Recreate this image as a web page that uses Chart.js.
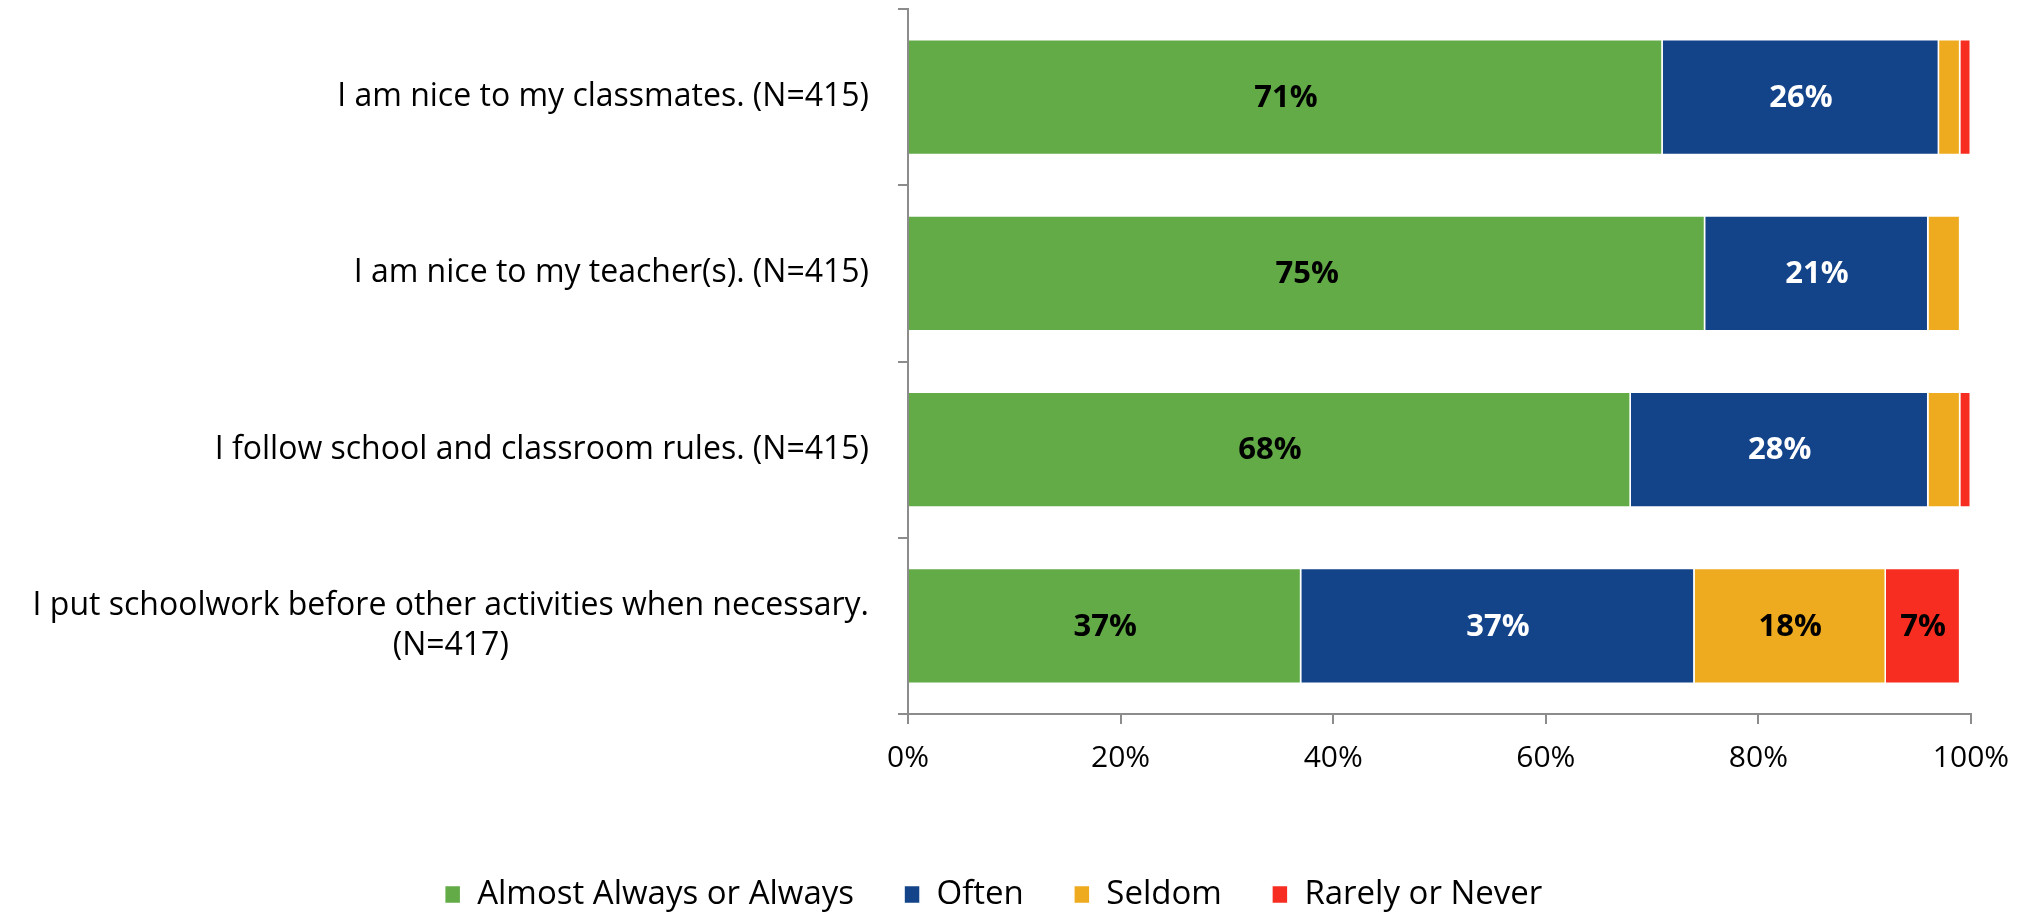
<!DOCTYPE html>
<html>
<head>
<meta charset="utf-8">
<script src="https://cdn.jsdelivr.net/npm/chart.js@4.4.1/dist/chart.umd.min.js"></script>
<style>
  html, body { margin: 0; padding: 0; background: #fff; }
  #wrap { width: 2033px; height: 912px; }
</style>
</head>
<body>
<div id="wrap"><canvas id="behavior"></canvas></div>
<script>
// survey statements, one entry per bar (extra entries are wrapped lines)
var statements = [
    ['I am nice to my classmates. (N=415)'],
    ['I am nice to my teacher(s). (N=415)'],
    ['I follow school and classroom rules. (N=415)'],
    ['I put schoolwork before other activities when necessary.', '(N=417)']
];
var almostAlways = [71, 75, 68, 37];
var often = [26, 21, 28, 37];
var seldom = [2, 3, 3, 18];
var rarely = [1, 0, 1, 7];
var xTicks = [0, 20, 40, 60, 80, 100];

var FONT = "'Open Sans', sans-serif";
var AXIS_GREY = '#8c8c8c';

// percentage text in the middle of each segment (small ones left blank)
var valueLabels = {
    id: 'valueLabels',
    afterDatasetsDraw: function(chart) {
        var ctx = chart.ctx;
        ctx.save();
        ctx.font = 'bold 31px ' + FONT;
        ctx.textAlign = 'center';
        ctx.textBaseline = 'middle';
        chart.data.datasets.forEach(function(ds, di) {
            var meta = chart.getDatasetMeta(di);
            meta.data.forEach(function(bar, i) {
                var v = ds.data[i];
                if (v < 5) return;
                ctx.fillStyle = ds.labelColor;
                ctx.fillText(v + '%', (bar.x + bar.base) / 2, bar.y + 1);
            });
        });
        ctx.restore();
    }
};

// category labels: block right-aligned to the axis, wrapped lines centred
var statementLabels = {
    id: 'statementLabels',
    afterDraw: function(chart) {
        var ctx = chart.ctx;
        var y = chart.scales.y;
        var right = chart.chartArea.left - 39;
        ctx.save();
        ctx.font = '32px ' + FONT;
        ctx.fillStyle = '#000';
        ctx.textAlign = 'center';
        ctx.textBaseline = 'middle';
        statements.forEach(function(lines, i) {
            var w = Math.max.apply(null, lines.map(function(t) { return ctx.measureText(t).width; }));
            var cx = right - w / 2;
            var cy = y.getPixelForValue(i);
            lines.forEach(function(t, j) {
                ctx.fillText(t, cx, cy + (j - (lines.length - 1) / 2) * 40);
            });
        });
        ctx.restore();
    }
};

// nudge the legend row a little lower and to the right
var legendNudge = {
    id: 'legendNudge',
    afterLayout: function(chart) {
        var lg = chart.legend;
        lg.top += 9; lg.bottom += 9;
        lg.left += 8; lg.right += 8;
    }
};

var ctx = document.getElementById('behavior').getContext('2d');
var myChart = new Chart(ctx, {
    type: 'bar',
    data: {
        labels: statements.map(function(s) { return s.join(' '); }),
        datasets: [{
            label: 'Almost Always or Always',
            data: almostAlways,
            backgroundColor: '#62ab47',
            labelColor: '#000'
        }, {
            label: 'Often',
            data: often,
            backgroundColor: '#134389',
            labelColor: '#fff'
        }, {
            label: 'Seldom',
            data: seldom,
            backgroundColor: '#efab1f',
            labelColor: '#000'
        }, {
            label: 'Rarely or Never',
            data: rarely,
            backgroundColor: '#f62d20',
            labelColor: '#000'
        }]
    },
    options: {
        indexAxis: 'y',
        responsive: true,
        maintainAspectRatio: false,
        animation: false,
        datasets: {
            bar: {
                categoryPercentage: 1,
                barPercentage: 0.66,
                borderColor: '#ffffff',
                borderWidth: 1.5
            }
        },
        layout: {
            padding: { top: 9, left: 0, right: 62, bottom: 0 }
        },
        plugins: {
            tooltip: { enabled: false },
            legend: {
                position: 'bottom',
                labels: {
                    color: '#000',
                    font: { family: FONT, size: 33 },
                    boxWidth: 16,
                    boxHeight: 18,
                    padding: 50
                }
            }
        },
        scales: {
            x: {
                stacked: true,
                min: 0,
                max: 100,
                afterBuildTicks: function(scale) {
                    scale.ticks = xTicks.map(function(v) { return { value: v }; });
                },
                afterFit: function(scale) { scale.height = 105; },
                ticks: {
                    color: '#000',
                    font: { family: FONT, size: 30 },
                    padding: 16,
                    callback: function(v) { return v + '%'; }
                },
                grid: {
                    drawOnChartArea: false,
                    color: AXIS_GREY,
                    lineWidth: 2,
                    tickLength: 10
                },
                border: { color: AXIS_GREY, width: 2 }
            },
            y: {
                stacked: true,
                offset: true,
                afterFit: function(scale) { scale.width = 908; },
                ticks: { display: false },
                grid: {
                    offset: true,
                    drawOnChartArea: false,
                    color: AXIS_GREY,
                    lineWidth: 2,
                    tickLength: 10
                },
                border: { color: AXIS_GREY, width: 2 }
            }
        }
    },
    plugins: [valueLabels, statementLabels, legendNudge]
});
</script>
</body>
</html>
